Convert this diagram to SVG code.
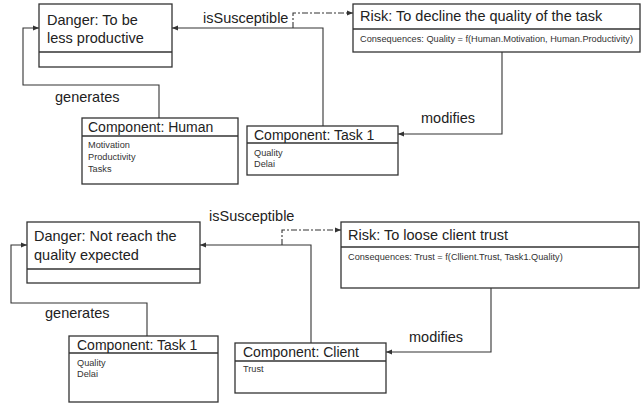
<svg xmlns="http://www.w3.org/2000/svg" width="641" height="405" viewBox="0 0 641 405">
<style>
.box{fill:#fff;stroke:#333;stroke-width:1.3}
.div{stroke:#333;stroke-width:1.3}
.t{font-family:"Liberation Sans",Arial,sans-serif;font-size:14.5px;fill:#222}
.ct{font-family:"Liberation Sans",Arial,sans-serif;font-size:14px;fill:#222}
.s{font-family:"Liberation Sans",Arial,sans-serif;font-size:9.2px;fill:#333}
.c{fill:none;stroke:#333;stroke-width:1.1}
.dd{fill:none;stroke:#333;stroke-width:1.1;stroke-dasharray:6 2 2 2}
</style>
<defs>
<marker id="ah" markerUnits="userSpaceOnUse" markerWidth="6" markerHeight="6" viewBox="0 0 6 6" refX="6" refY="3" orient="auto">
<path d="M0,0.5 L6,3 L0,5.5 Z" fill="#333"/>
</marker>
</defs>
<rect width="641" height="405" fill="#fff"/>
<g id="connectors">
<path class="c" d="M159,118 V85 H23 V28 H39" marker-end="url(#ah)"/>
<path class="c" d="M323,126 V28 H172" marker-end="url(#ah)"/>
<path class="dd" d="M293,28 V13 H353" marker-end="url(#ah)"/>
<path class="c" d="M502,52 V134 H398" marker-end="url(#ah)"/>
<path class="c" d="M147,336 V303 H11 V245 H27" marker-end="url(#ah)"/>
<path class="c" d="M311,343 V245 H200" marker-end="url(#ah)"/>
<path class="dd" d="M282,245 V230 H341" marker-end="url(#ah)"/>
<path class="c" d="M491,288 V352 H386" marker-end="url(#ah)"/>
<text class="t" x="55" y="102">generates</text>
<text class="t" x="203" y="23">isSusceptible</text>
<text class="t" x="421" y="123">modifies</text>
<text class="t" x="45" y="318">generates</text>
<text class="t" x="209" y="221">isSusceptible</text>
<text class="t" x="409" y="342">modifies</text>
</g>
<g id="danger1">
<rect class="box" x="39" y="4" width="133" height="63"/>
<line class="div" x1="39" y1="52" x2="172" y2="52"/>
<text class="t" x="47" y="25">Danger: To be</text>
<text class="t" x="47" y="43">less productive</text>
</g>
<g id="risk1">
<rect class="box" x="353" y="4" width="287" height="48"/>
<line class="div" x1="353" y1="29" x2="640" y2="29"/>
<text class="t" x="360" y="21">Risk: To decline the quality of the task</text>
<text class="s" x="360" y="42">Consequences: Quality = f(Human.Motivation, Human.Productivity)</text>
</g>
<g id="human">
<rect class="box" x="82" y="118" width="156" height="66"/>
<line class="div" x1="82" y1="136" x2="238" y2="136"/>
<text class="ct" x="88" y="132">Component: Human</text>
<text class="s" x="88" y="148">Motivation</text>
<text class="s" x="88" y="160">Productivity</text>
<text class="s" x="88" y="172">Tasks</text>
</g>
<g id="task1a">
<rect class="box" x="247" y="126" width="151" height="49"/>
<line class="div" x1="247" y1="143" x2="398" y2="143"/>
<text class="ct" x="254" y="140">Component: Task 1</text>
<text class="s" x="254" y="156">Quality</text>
<text class="s" x="254" y="167">Delai</text>
</g>
<g id="danger2">
<rect class="box" x="27" y="222" width="173" height="61"/>
<line class="div" x1="27" y1="269" x2="200" y2="269"/>
<text class="t" x="34" y="241">Danger: Not reach the</text>
<text class="t" x="34" y="260">quality expected</text>
</g>
<g id="risk2">
<rect class="box" x="341" y="222" width="298" height="66"/>
<line class="div" x1="341" y1="247" x2="639" y2="247"/>
<text class="t" x="348" y="240">Risk: To loose client trust</text>
<text class="s" x="348" y="260">Consequences: Trust = f(Cllient.Trust, Task1.Quality)</text>
</g>
<g id="task1b">
<rect class="box" x="69" y="336" width="149" height="66"/>
<line class="div" x1="69" y1="353" x2="218" y2="353"/>
<text class="ct" x="77" y="350">Component: Task 1</text>
<text class="s" x="77" y="366">Quality</text>
<text class="s" x="77" y="377">Delai</text>
</g>
<g id="client">
<rect class="box" x="235" y="343" width="151" height="50"/>
<line class="div" x1="235" y1="361" x2="386" y2="361"/>
<text class="ct" x="243" y="357">Component: Client</text>
<text class="s" x="243" y="372">Trust</text>
</g>
</svg>
